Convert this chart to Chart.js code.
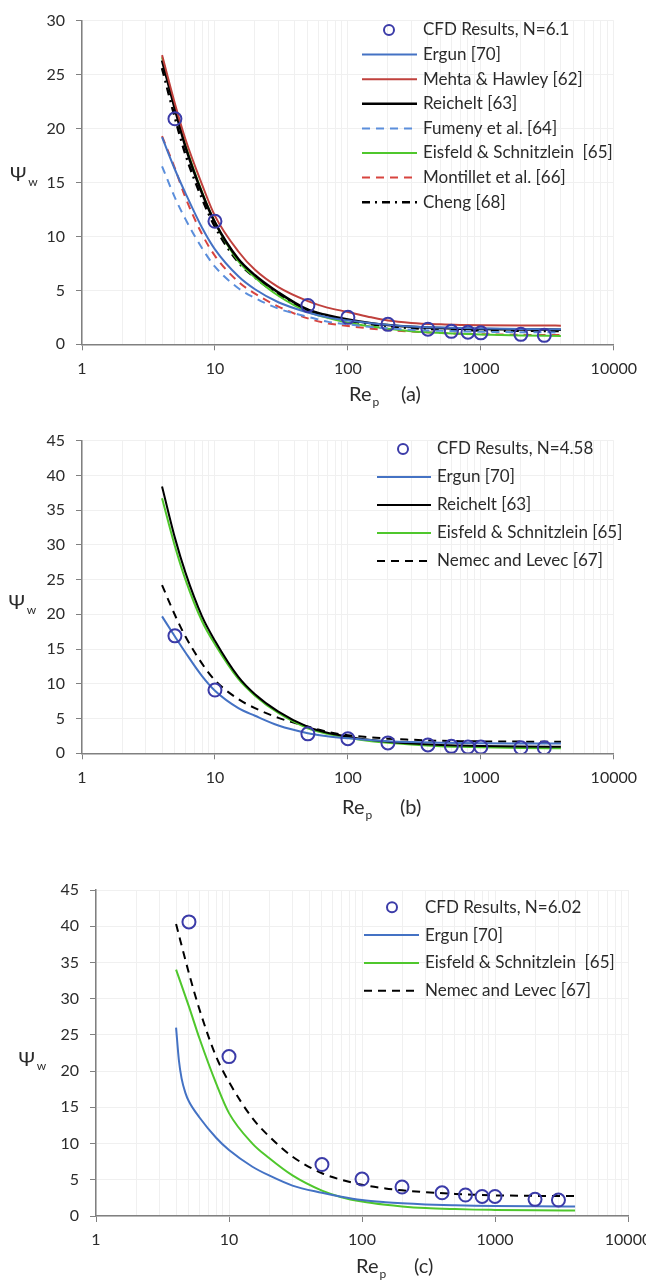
<!DOCTYPE html>
<html>
<head>
<meta charset="utf-8">
<script src="https://cdn.jsdelivr.net/npm/chart.js@4.4.1/dist/chart.umd.min.js"></script>
<style>
    html, body { margin: 0; padding: 0; background: #fff; }
    body { width: 646px; height: 1281px; overflow: hidden; position: relative; }
    .panel { position: absolute; left: 0; width: 646px; overflow: hidden; }
    canvas { display: block; }
</style>
</head>
<body>
<div class="panel" style="top:0;height:420px"><canvas id="chartA" width="646" height="420"></canvas></div>
<div class="panel" style="top:420px;height:430px"><canvas id="chartB" width="646" height="430"></canvas></div>
<div class="panel" style="top:860px;height:421px"><canvas id="chartC" width="660" height="421"></canvas></div>
<script>
// Re_p values where the correlations were sampled, and where CFD points sit
const reCurve = [4, 5, 6, 8, 10, 15, 20, 30, 50, 70, 100, 150, 200, 300, 500, 700, 1000, 2000, 4000];
const reCfd = [5, 10, 50, 100, 200, 400, 600, 800, 1000, 2000, 3000];
const reErgunC = [4, 4.2, 4.4, 4.7, 5, 6, 8, 10, 15, 20, 30, 50, 70, 100, 150, 200, 300, 500, 700, 1000, 2000, 4000];
const xTickLabels = ['1', '10', '100', '1000', '10000'];

// (a) N = 6.1
const aCfd       = [20.9, 11.4, 3.6, 2.5, 1.85, 1.4, 1.2, 1.12, 1.06, 0.92, 0.83];
const aErgun     = [19.2, 16.2, 14.0, 10.8, 8.8, 6.3, 5.1, 3.9, 2.95, 2.5, 2.2, 1.95, 1.8, 1.65, 1.55, 1.5, 1.47, 1.42, 1.4];
const aMehta     = [26.8, 22.3, 19.0, 14.8, 11.9, 8.6, 6.9, 5.3, 4.0, 3.4, 3.0, 2.5, 2.2, 1.98, 1.85, 1.8, 1.77, 1.74, 1.73];
const aReichelt  = [26.3, 21.8, 18.3, 14.0, 11.3, 7.9, 6.4, 4.8, 3.2, 2.7, 2.3, 1.95, 1.78, 1.62, 1.5, 1.45, 1.42, 1.38, 1.36];
const aFumeny    = [16.5, 13.6, 11.6, 8.9, 7.2, 5.2, 4.3, 3.3, 2.55, 2.1, 1.85, 1.6, 1.48, 1.35, 1.25, 1.2, 1.16, 1.12, 1.1];
const aEisfeld   = [26.6, 22.0, 18.5, 14.1, 11.3, 7.7, 6.2, 4.5, 3.0, 2.45, 2.0, 1.65, 1.45, 1.22, 1.05, 0.97, 0.9, 0.82, 0.78];
const aMontillet = [19.3, 16.3, 13.6, 10.2, 8.2, 5.8, 4.7, 3.5, 2.4, 1.95, 1.7, 1.45, 1.33, 1.18, 1.05, 0.98, 0.94, 0.88, 0.85];
const aCheng     = [25.6, 21.0, 17.6, 13.5, 10.9, 7.6, 6.2, 4.6, 3.2, 2.6, 2.2, 1.85, 1.7, 1.5, 1.38, 1.32, 1.28, 1.25, 1.24];

// (b) N = 4.58
const bCfd      = [16.9, 9.1, 2.8, 2.1, 1.5, 1.2, 1.0, 0.9, 0.9, 0.8, 0.8];
const bErgun    = [19.7, 16.8, 14.5, 11.1, 9.0, 6.5, 5.4, 4.0, 2.9, 2.45, 2.15, 1.9, 1.75, 1.62, 1.52, 1.48, 1.45, 1.42, 1.4];
const bReichelt = [38.4, 31.0, 26.0, 19.7, 16.2, 11.0, 8.5, 6.0, 3.8, 2.95, 2.4, 1.9, 1.65, 1.4, 1.2, 1.12, 1.05, 0.97, 0.93];
const bEisfeld  = [36.7, 29.8, 25.0, 19.0, 15.7, 10.7, 8.3, 5.8, 3.6, 2.8, 2.25, 1.75, 1.5, 1.25, 1.02, 0.93, 0.86, 0.77, 0.72];
const bNemec    = [24.2, 19.9, 16.8, 12.9, 10.5, 7.8, 6.5, 5.1, 3.85, 3.1, 2.6, 2.3, 2.1, 1.95, 1.8, 1.75, 1.72, 1.68, 1.65];

// (c) N = 6.02
const cCfd     = [40.6, 22.0, 7.1, 5.1, 4.0, 3.2, 2.9, 2.7, 2.7, 2.3, 2.2];
const cErgun   = [26.0, 21.5, 19.0, 17.0, 15.8, 13.6, 10.8, 9.1, 6.8, 5.6, 4.2, 3.2, 2.65, 2.2, 1.9, 1.75, 1.6, 1.48, 1.42, 1.38, 1.33, 1.3];
const cEisfeld = [34.0, 28.9, 24.5, 18.3, 14.2, 10.0, 8.0, 5.6, 3.5, 2.6, 2.0, 1.55, 1.32, 1.1, 0.95, 0.88, 0.84, 0.78, 0.75];
const cNemec   = [40.3, 33.5, 28.5, 22.0, 18.5, 13.5, 11.0, 8.2, 5.9, 5.0, 4.3, 3.8, 3.55, 3.3, 3.05, 2.95, 2.85, 2.78, 2.75];

const FONT = 'Lato, "DejaVu Sans", sans-serif';
const TEXT = '#2b2b2b';
const AXIS = '#808080';
const GRID = '#f0f0f0';

const BLUE = '#4472C4';
const RED = '#C0413D';
const GREEN = '#4FC72C';
const LIGHTBLUE = '#5B8EDB';
const DASHRED = '#D8443F';
const CFD = '#3B3BA8';

function pts(xs, ys) {
    return xs.map((x, i) => ({ x: x, y: ys[i] }));
}

function cfdSet(label, ys) {
    return {
        label: label, data: pts(reCfd, ys), showLine: false,
        pointStyle: 'circle', pointRadius: 6.5, pointBorderWidth: 2,
        pointBorderColor: CFD, pointBackgroundColor: 'rgba(0,0,0,0)'
    };
}

function curve(label, xs, ys, color, width, dash) {
    return {
        label: label, data: pts(xs, ys), showLine: true, pointRadius: 0,
        borderColor: color, borderWidth: width, borderDash: dash || [],
        cubicInterpolationMode: 'monotone', fill: false
    };
}

// log grid positions 1..9 per decade
const xGrid = [];
[1, 10, 100, 1000].forEach(d => { for (let m = 1; m <= 9; m++) xGrid.push(m * d); });
xGrid.push(10000);

const insideLegend = {
    id: 'insideLegend',
    afterDraw(chart, args, o) {
        const ctx = chart.ctx;
        ctx.save();
        ctx.font = o.font;
        ctx.textBaseline = 'middle';
        chart.data.datasets.forEach((ds, i) => {
            const y = o.top + i * o.gap;
            if (ds.showLine === false) {
                ctx.beginPath();
                ctx.arc(o.markerX, y, 5, 0, Math.PI * 2);
                ctx.lineWidth = 2;
                ctx.strokeStyle = ds.pointBorderColor;
                ctx.stroke();
            } else {
                ctx.beginPath();
                ctx.setLineDash(ds.borderDash);
                ctx.moveTo(o.lineX1, y);
                ctx.lineTo(o.lineX2, y);
                ctx.lineWidth = ds.borderWidth;
                ctx.strokeStyle = ds.borderColor;
                ctx.stroke();
                ctx.setLineDash([]);
            }
            ctx.fillStyle = TEXT;
            ctx.fillText(ds.label, o.textX, y);
        });
        ctx.restore();
    }
};

const axisTitles = {
    id: 'axisTitles',
    afterDraw(chart, args, o) {
        const ctx = chart.ctx;
        ctx.save();
        ctx.fillStyle = TEXT;
        ctx.textBaseline = 'middle';
        ctx.font = '20px ' + FONT;
        ctx.fillText('\u03A8', o.psiX, o.psiY);
        const pw = ctx.measureText('\u03A8').width;
        ctx.fillText('Re', o.reX, o.reY);
        const rw = ctx.measureText('Re').width;
        ctx.fillText(o.tag, o.tagX, o.reY);
        ctx.font = '12px ' + FONT;
        ctx.fillText('w', o.psiX + pw + 2, o.psiY + 7);
        ctx.fillText('p', o.reX + rw + 1, o.reY + 7);
        ctx.restore();
    }
};

function makeChart(id, datasets, p) {
    const canvas = document.getElementById(id);
    return new Chart(canvas.getContext('2d'), {
        type: 'scatter',
        data: { datasets: datasets },
        plugins: [insideLegend, axisTitles],
        options: {
            responsive: false,
            animation: false,
            devicePixelRatio: 1,
            layout: { padding: { left: 0, top: p.top, right: canvas.width - p.right, bottom: 0 } },
            plugins: {
                legend: { display: false },
                tooltip: { enabled: false },
                insideLegend: p.legend,
                axisTitles: p.titles
            },
            scales: {
                x: {
                    type: 'logarithmic', min: 1, max: 10000,
                    afterBuildTicks: s => { s.ticks = xGrid.map(v => ({ value: v })); },
                    afterFit: s => { s.height = canvas.height - p.bottom; },
                    border: { color: AXIS, width: 1.5 },
                    grid: {
                        color: GRID, lineWidth: 1, drawTicks: true, tickLength: 6,
                        tickColor: c => xTickLabels.includes(String(c.tick.value)) ? AXIS : 'rgba(0,0,0,0)'
                    },
                    ticks: {
                        autoSkip: false, maxRotation: 0, padding: p.xPad,
                        color: TEXT, font: { family: FONT, size: 16 },
                        callback: v => xTickLabels.includes(String(v)) ? String(v) : ''
                    }
                },
                y: {
                    min: 0, max: p.yMax,
                    afterFit: s => { s.width = p.left; },
                    border: { color: AXIS, width: 1.5 },
                    grid: { color: GRID, lineWidth: 1, drawTicks: true, tickLength: 6, tickColor: AXIS },
                    ticks: { stepSize: 5, padding: 11, color: TEXT, font: { family: FONT, size: 16 } }
                }
            }
        }
    });
}

makeChart('chartA', [
    cfdSet('CFD Results, N=6.1', aCfd),
    curve('Ergun [70]', reCurve, aErgun, BLUE, 2),
    curve('Mehta & Hawley [62]', reCurve, aMehta, RED, 2),
    curve('Reichelt [63]', reCurve, aReichelt, '#000', 2.5),
    curve('Fumeny et al. [64]', reCurve, aFumeny, LIGHTBLUE, 2, [8, 6]),
    curve('Eisfeld & Schnitzlein  [65]', reCurve, aEisfeld, GREEN, 2),
    curve('Montillet et al. [66]', reCurve, aMontillet, DASHRED, 2, [8, 6]),
    curve('Cheng [68]', reCurve, aCheng, '#000', 2.5, [8, 5, 2, 5])
], {
    left: 82, right: 621, top: 15.7, bottom: 344.3, yMax: 30, xPad: 9,
    legend: { font: '17px ' + FONT, top: 30, gap: 24.6, markerX: 389, lineX1: 362, lineX2: 417, textX: 423 },
    titles: { psiX: 10, psiY: 175, reX: 349, reY: 395, tag: '(a)', tagX: 401 }
});

makeChart('chartB', [
    cfdSet('CFD Results, N=4.58', bCfd),
    curve('Ergun [70]', reCurve, bErgun, BLUE, 2),
    curve('Reichelt [63]', reCurve, bReichelt, '#000', 2),
    curve('Eisfeld & Schnitzlein [65]', reCurve, bEisfeld, GREEN, 2),
    curve('Nemec and Levec [67]', reCurve, bNemec, '#000', 2, [8, 6])
], {
    left: 82, right: 621, top: 11.7, bottom: 333.3, yMax: 45, xPad: 9,
    legend: { font: '17px ' + FONT, top: 29, gap: 28, markerX: 403, lineX1: 377, lineX2: 431, textX: 437 },
    titles: { psiX: 8.5, psiY: 182.7, reX: 342, reY: 388, tag: '(b)', tagX: 400 }
});

makeChart('chartC', [
    cfdSet('CFD Results, N=6.02', cCfd),
    curve('Ergun [70]', reErgunC, cErgun, BLUE, 2),
    curve('Eisfeld & Schnitzlein  [65]', reCurve, cEisfeld, GREEN, 2),
    curve('Nemec and Levec [67]', reCurve, cNemec, '#000', 2, [8, 6])
], {
    left: 96, right: 628, top: 30, bottom: 356, yMax: 45, xPad: 8,
    legend: { font: '17px ' + FONT, top: 47.3, gap: 27.8, markerX: 392, lineX1: 364, lineX2: 419, textX: 425 },
    titles: { psiX: 18.5, psiY: 199.3, reX: 356, reY: 406.7, tag: '(c)', tagX: 414 }
});
</script>
</body>
</html>
